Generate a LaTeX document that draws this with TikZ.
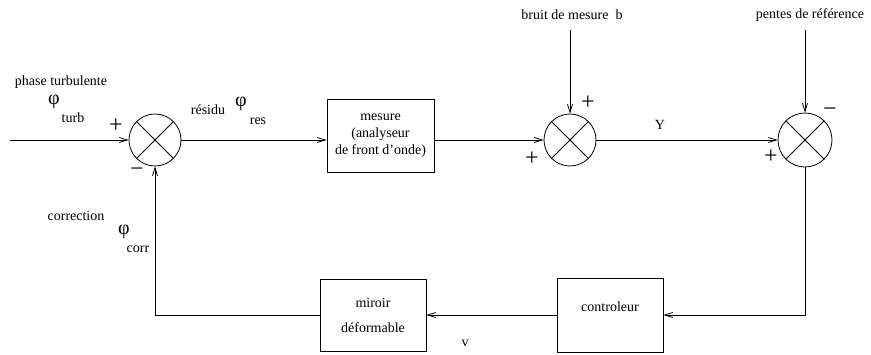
\documentclass[tikz,border=0pt]{standalone}
\usepackage{fontspec}
\setmainfont{Liberation Serif}
\usetikzlibrary{arrows.meta}
\tikzset{
  sumnode/.style={draw, circle, minimum size=52pt, inner sep=0pt, line width=0.8pt},
  blockbox/.style={draw, rectangle, line width=0.8pt, align=center, font=\fontsize{14}{17}\selectfont},
  lbl/.style={font=\fontsize{14}{17}\selectfont, inner sep=0pt},
  phil/.style={font=\fontsize{20}{20}\selectfont, inner sep=0pt},
  sgn/.style={font=\fontsize{24}{24}\selectfont, inner sep=0pt},
  conn/.style={line width=0.8pt, -{Straight Barb[length=8pt,width=5pt]}},
  plain/.style={line width=0.8pt}
}
\begin{document}
\begin{tikzpicture}[x=1pt, y=-1pt]
\useasboundingbox (0,0) rectangle (871,355);
% summing junctions
\node[sumnode] (s1) at (155,140) {};
\node[sumnode] (s2) at (570,140) {};
\node[sumnode, minimum size=54pt] (s3) at (805,140) {};
\foreach \s in {s1,s2,s3}{
  \draw[plain] (\s.45) -- (\s.225);
  \draw[plain] (\s.135) -- (\s.-45);
}
% blocks
\node[blockbox, minimum width=107pt, minimum height=73pt] (mes) at (380.5,135.5) {mesure\\(analyseur\\ de front d’onde)};
\node[blockbox, minimum width=106pt, minimum height=74pt] (ctrl) at (610,315) {controleur\\[-6pt]\strut};
\node[blockbox, minimum width=106pt, minimum height=72pt] (mir) at (373,315) {miroir\\[8pt]déformable};
% free ends
\coordinate (in) at (10,140);
\coordinate (bn) at (570,30);
\coordinate (rf) at (805,30);
\coordinate (rc) at (805,315);
\coordinate (lc) at (155,315);
% connectors
\draw[conn] (in) -- (s1.west);
\draw[conn] (s1.east) -- (s1.east -| mes.west);
\draw[conn] (mes.east |- s2.west) -- (s2.west);
\draw[conn] (bn) -- (s2.north);
\draw[conn] (s2.east) -- (s3.west);
\draw[conn] (rf) -- (s3.north);
\draw[conn] (s3.south) -- (rc) -- (ctrl.east);
\draw[conn] (ctrl.west) -- (mir.east);
\draw[conn] (mir.west) -- (lc) -- (s1.south);
% labels
\node[lbl] (tphase) at (61,82) {phase turbulente};
\node[phil] (tphi1) at (54,102) {φ};
\node[lbl] (tturb) at (73,118) {turb};
\node[sgn] (p1) at (116,126) {+};
\node[sgn] (m1) at (137,172) {−};
\node[lbl] (tres) at (208,110) {résidu};
\node[phil] (tphi2) at (241,104) {φ};
\node[lbl] (tres2) at (258,121) {res};
\node[lbl] (tb) at (572,15) {bruit de mesure\ \ b};
\node[sgn] (p2) at (588,103) {+};
\node[sgn] (p3) at (532,159) {+};
\node[lbl] (tY) at (660,125) {Y};
\node[lbl] (tref) at (810,15) {pentes de référence};
\node[sgn] (m3) at (830,112) {−};
\node[sgn] (p4) at (771,157) {+};
\node[lbl] (tcor) at (76,216) {correction};
\node[phil] (tphi3) at (124,232) {φ};
\node[lbl] (tcorr) at (138,249) {corr};
\node[lbl] (tv) at (465,343) {v};
\end{tikzpicture}
\end{document}
